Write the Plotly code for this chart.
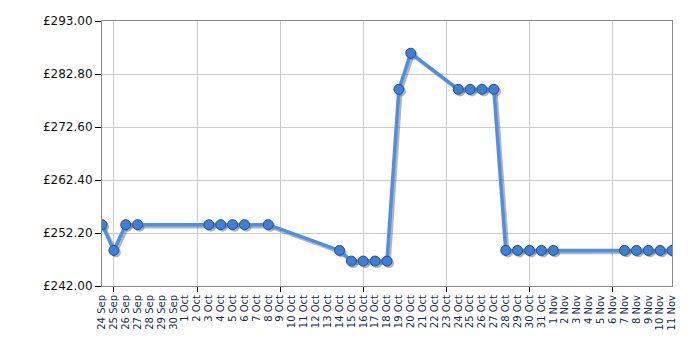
import plotly.graph_objects as go

# ---- data ----
dates = ["2023-09-24", "2023-09-25", "2023-09-26", "2023-09-27",
         "2023-10-03", "2023-10-04", "2023-10-05", "2023-10-06", "2023-10-08",
         "2023-10-14", "2023-10-15", "2023-10-16", "2023-10-17", "2023-10-18",
         "2023-10-19", "2023-10-20",
         "2023-10-24", "2023-10-25", "2023-10-26", "2023-10-27",
         "2023-10-28", "2023-10-29", "2023-10-30", "2023-10-31", "2023-11-01",
         "2023-11-07", "2023-11-08", "2023-11-09", "2023-11-10", "2023-11-11"]
prices = [253.80, 248.85, 253.80, 253.80,
          253.80, 253.80, 253.80, 253.80, 253.80,
          248.85, 246.80, 246.80, 246.80, 246.80,
          279.85, 286.80,
          279.85, 279.85, 279.85, 279.85,
          248.85, 248.85, 248.85, 248.85, 248.85,
          248.85, 248.85, 248.85, 248.85, 248.85]

tick_dates = ["2023-09-24", "2023-09-25", "2023-09-26", "2023-09-27", "2023-09-28",
              "2023-09-29", "2023-09-30", "2023-10-01", "2023-10-02", "2023-10-03",
              "2023-10-04", "2023-10-05", "2023-10-06", "2023-10-07", "2023-10-08",
              "2023-10-09", "2023-10-10", "2023-10-11", "2023-10-12", "2023-10-13",
              "2023-10-14", "2023-10-15", "2023-10-16", "2023-10-17", "2023-10-18",
              "2023-10-19", "2023-10-20", "2023-10-21", "2023-10-22", "2023-10-23",
              "2023-10-24", "2023-10-25", "2023-10-26", "2023-10-27", "2023-10-28",
              "2023-10-29", "2023-10-30", "2023-10-31", "2023-11-01", "2023-11-02",
              "2023-11-03", "2023-11-04", "2023-11-05", "2023-11-06", "2023-11-07",
              "2023-11-08", "2023-11-09", "2023-11-10", "2023-11-11"]
tick_labels = ["24 Sep", "25 Sep", "26 Sep", "27 Sep", "28 Sep", "29 Sep", "30 Sep",
               "1 Oct", "2 Oct", "3 Oct", "4 Oct", "5 Oct", "6 Oct", "7 Oct", "8 Oct",
               "9 Oct", "10 Oct", "11 Oct", "12 Oct", "13 Oct", "14 Oct", "15 Oct",
               "16 Oct", "17 Oct", "18 Oct", "19 Oct", "20 Oct", "21 Oct", "22 Oct",
               "23 Oct", "24 Oct", "25 Oct", "26 Oct", "27 Oct", "28 Oct", "29 Oct",
               "30 Oct", "31 Oct", "1 Nov", "2 Nov", "3 Nov", "4 Nov", "5 Nov",
               "6 Nov", "7 Nov", "8 Nov", "9 Nov", "10 Nov", "11 Nov"]
y_ticks = [242.00, 252.20, 262.40, 272.60, 282.80, 293.00]
y_tick_labels = ["£242.00", "£252.20", "£262.40", "£272.60", "£282.80", "£293.00"]

# ---- styling ----
x_range = ["2023-09-24", "2023-11-11"]
y_range = [242.0, 293.0]
shadow_x_range = ["2023-09-23 20:00", "2023-11-10 20:00"]
shadow_y_range = [242.4, 293.4]
font = "DejaVu Sans, Verdana, sans-serif"

fig = go.Figure()

# placeholder on main axes (holds grid & ticks)
fig.add_trace(go.Scatter(x=dates, y=prices, mode="lines", line=dict(width=0),
                         showlegend=False, hoverinfo="skip", xaxis="x", yaxis="y"))
# shadow
fig.add_trace(go.Scatter(x=dates, y=prices, mode="lines+markers",
                         line=dict(color="rgba(90,90,90,0.45)", width=3.5),
                         marker=dict(size=10, color="rgba(90,90,90,0.45)", line=dict(width=0)),
                         showlegend=False, hoverinfo="skip", xaxis="x2", yaxis="y2"))
# main line
fig.add_trace(go.Scatter(x=dates, y=prices, mode="lines+markers",
                         line=dict(color="#4f8ee6", width=3.5),
                         marker=dict(size=10, color="#3f7fd6",
                                     line=dict(color="#214f91", width=1)),
                         showlegend=False, xaxis="x3", yaxis="y3"))

fig.update_layout(
    width=700, height=350,
    margin=dict(l=102, r=28, t=21, b=64),
    paper_bgcolor="white", plot_bgcolor="white",
    font=dict(family=font, color="#111"),
    xaxis=dict(type="date", range=x_range, tickmode="array",
               tickvals=tick_dates, ticktext=tick_labels,
               tickangle=-90, tickfont=dict(size=10, color="#1a2a4a"),
               ticks="", ticklabelstandoff=4, showgrid=False, zeroline=False,
               showline=True, linecolor="#888", linewidth=1, mirror=True,
               minor=dict(dtick=7 * 86400000, tick0="2023-09-25", ticks="outside",
                          ticklen=5, tickcolor="#000", tickwidth=1, showgrid=True,
                          gridcolor="#cccccc", gridwidth=1)),
    yaxis=dict(range=y_range, tickmode="array", tickvals=y_ticks, ticktext=y_tick_labels,
               tickfont=dict(size=12, color="#111"),
               ticks="outside", ticklen=6, tickwidth=1, tickcolor="#000",
               showgrid=True, gridcolor="#cccccc", gridwidth=1, zeroline=False,
               showline=True, linecolor="#888", linewidth=1, mirror=True),
    xaxis2=dict(type="date", range=shadow_x_range, overlaying="x", visible=False),
    yaxis2=dict(range=shadow_y_range, overlaying="y", visible=False),
    xaxis3=dict(type="date", range=x_range, overlaying="x", visible=False),
    yaxis3=dict(range=y_range, overlaying="y", visible=False),
)

fig.write_html("out.html")
